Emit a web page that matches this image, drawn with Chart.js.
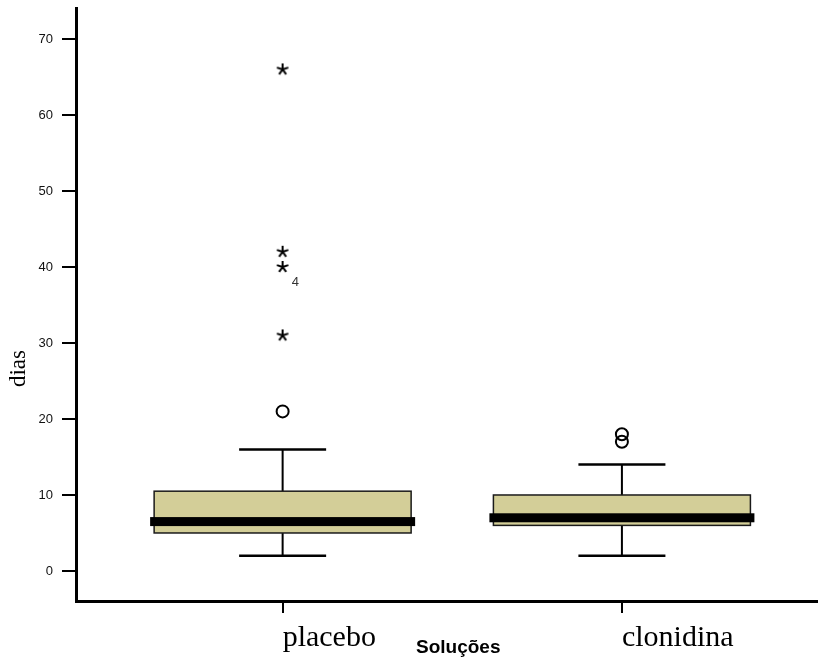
<!DOCTYPE html>
<html>
<head>
<meta charset="utf-8">
<script src="https://cdn.jsdelivr.net/npm/chart.js@4.4.1/dist/chart.umd.min.js"></script>
<style>
  html, body { margin: 0; padding: 0; background: #fff; }
</style>
</head>
<body>
<canvas id="boxChart" width="825" height="664"></canvas>
<script>
// groups and five-number summaries (dias)
const groups = ['placebo', 'clonidina'];
const lowWhisker = [2, 2];
const q1 = [5, 6];
const median = [6.5, 7];
const q3 = [10.5, 10];
const highWhisker = [16, 14];
// outliers (o) and extremes (*) per group
const outliers = [[21], [17, 18]];
const extremes = [[31, 40, 42, 66], []];
const caseLabels = [{ group: 0, value: 40, text: '4' }];
const yTicks = [0, 10, 20, 30, 40, 50, 60, 70];

const toPoints = arr => arr.flatMap((vals, i) => vals.map(v => ({ x: i + 1, y: v })));

// five-armed asterisk marker
const starImg = document.createElement('canvas');
starImg.width = 14;
starImg.height = 14;
(() => {
  const c = starImg.getContext('2d');
  c.strokeStyle = '#000';
  c.lineWidth = 2;
  c.beginPath();
  for (let k = 0; k < 5; k++) {
    const a = -Math.PI / 2 + k * 2 * Math.PI / 5;
    c.moveTo(7, 7);
    c.lineTo(7 + 6 * Math.cos(a), 7 + 6 * Math.sin(a));
  }
  c.stroke();
})();

// no extra label padding around the plot area
const noPad = s => {
  s.paddingTop = 0;
  s.paddingBottom = 0;
  s.paddingLeft = 0;
  s.paddingRight = 0;
};

const boxPlot = {
  id: 'boxPlot',
  beforeDatasetsDraw(chart) {
    const { ctx, scales: { x, y } } = chart;
    const half = 128.5, capHalf = 43.5;
    groups.forEach((g, i) => {
      const cx = x.getPixelForValue(i + 1);
      const yLo = y.getPixelForValue(lowWhisker[i]);
      const yQ1 = y.getPixelForValue(q1[i]);
      const yMed = y.getPixelForValue(median[i]);
      const yQ3 = y.getPixelForValue(q3[i]);
      const yHi = y.getPixelForValue(highWhisker[i]);
      ctx.save();
      ctx.strokeStyle = '#000';
      ctx.lineWidth = 2;
      ctx.beginPath();
      ctx.moveTo(cx, yQ3); ctx.lineTo(cx, yHi);
      ctx.moveTo(cx, yQ1); ctx.lineTo(cx, yLo);
      ctx.stroke();
      ctx.lineWidth = 2.5;
      ctx.beginPath();
      ctx.moveTo(cx - capHalf, yHi); ctx.lineTo(cx + capHalf, yHi);
      ctx.moveTo(cx - capHalf, yLo); ctx.lineTo(cx + capHalf, yLo);
      ctx.stroke();
      ctx.fillStyle = '#d3ce98';
      ctx.fillRect(cx - half, yQ3, 2 * half, yQ1 - yQ3);
      ctx.lineWidth = 1.5;
      ctx.strokeStyle = '#1a1a1a';
      ctx.strokeRect(cx - half, yQ3, 2 * half, yQ1 - yQ3);
      ctx.fillStyle = '#000';
      ctx.fillRect(cx - half - 4, yMed - 4.5, 2 * half + 8, 9);
      ctx.restore();
    });
  },
  afterDraw(chart) {
    const { ctx, scales: { x, y } } = chart;
    ctx.save();
    ctx.fillStyle = '#333';
    ctx.font = '13px "Liberation Sans", Arial, sans-serif';
    ctx.textAlign = 'left';
    ctx.textBaseline = 'middle';
    caseLabels.forEach(l => {
      ctx.fillText(l.text, x.getPixelForValue(l.group + 1) + 9, y.getPixelForValue(l.value) + 15);
    });
    // x axis title
    ctx.fillStyle = '#000';
    ctx.font = 'bold 19px "Liberation Sans", Arial, sans-serif';
    ctx.textAlign = 'center';
    ctx.textBaseline = 'alphabetic';
    ctx.fillText('Soluções', x.getPixelForValue(1.5) + 6, x.bottom - 11);
    // y axis title
    ctx.font = '23px "Liberation Serif", "Times New Roman", serif';
    ctx.translate(y.left + 25, (y.top + y.bottom) / 2 + 64);
    ctx.rotate(-Math.PI / 2);
    ctx.fillText('dias', 0, 0);
    ctx.restore();
  }
};

new Chart(document.getElementById('boxChart').getContext('2d'), {
  type: 'scatter',
  data: {
    datasets: [
      {
        label: 'extremos',
        data: toPoints(extremes),
        pointStyle: starImg,
        pointRadius: 6,
        borderColor: '#000',
        backgroundColor: '#000'
      },
      {
        label: 'outliers',
        data: toPoints(outliers),
        pointStyle: 'circle',
        pointRadius: 6,
        borderWidth: 2,
        borderColor: '#000',
        backgroundColor: 'rgba(0,0,0,0)'
      }
    ]
  },
  options: {
    responsive: false,
    animation: false,
    devicePixelRatio: 1,
    layout: { padding: { top: 8, right: 1, left: 0, bottom: 0 } },
    plugins: {
      legend: { display: false },
      tooltip: { enabled: false }
    },
    scales: {
      x: {
        type: 'linear',
        position: 'bottom',
        min: 0.391,
        max: 2.575,
        afterBuildTicks: s => { s.ticks = groups.map((g, i) => ({ value: i + 1 })); },
        afterFit: s => { s.height = 63; noPad(s); },
        ticks: {
          callback: v => groups[v - 1],
          align: 'start',
          maxRotation: 0,
          autoSkip: false,
          padding: 7,
          color: '#000',
          font: { family: 'Liberation Serif', size: 30 }
        },
        grid: { drawOnChartArea: false, drawTicks: true, tickLength: 12, color: '#000', lineWidth: 2 },
        border: { display: true, color: '#000', width: 3 }
      },
      y: {
        type: 'linear',
        position: 'left',
        min: -3.95,
        max: 74.08,
        afterBuildTicks: s => { s.ticks = yTicks.map(v => ({ value: v })); },
        afterFit: s => { s.width = 76; noPad(s); },
        ticks: {
          padding: 9,
          color: '#111',
          font: { family: 'Liberation Sans', size: 13 }
        },
        grid: { drawOnChartArea: false, drawTicks: true, tickLength: 14, color: '#000', lineWidth: 2 },
        border: { display: true, color: '#000', width: 3 }
      }
    }
  },
  plugins: [boxPlot]
});
</script>
</body>
</html>
